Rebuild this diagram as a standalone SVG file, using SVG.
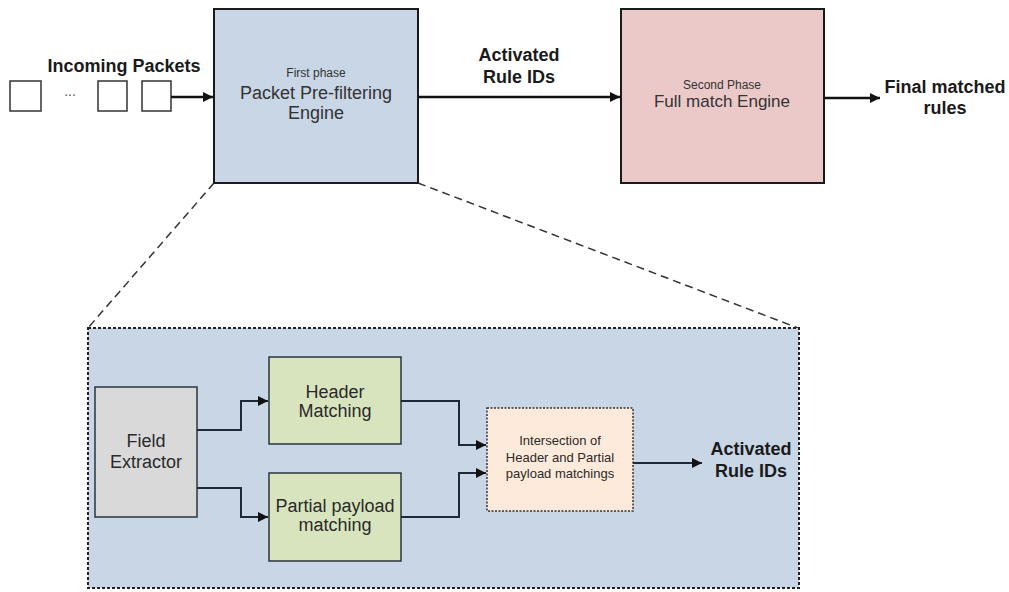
<svg xmlns="http://www.w3.org/2000/svg" width="1009" height="592" viewBox="0 0 1009 592">
<defs>
<style>
text{font-family:"Liberation Sans",Arial,sans-serif;text-anchor:middle}
.lbl{font-weight:bold;font-size:18px;fill:#1a1a1a}
.big{font-size:18px;fill:#333}
.sm{font-size:12px;fill:#333}
.mid{font-size:18px;fill:#2a2a2a}
.tiny{font-size:13px;fill:#2a2a2a}
.box{stroke:#1a1a1a;stroke-width:2}
.conn{fill:none;stroke:#111;stroke-width:2.5}
.conn2{fill:none;stroke:#1f2a38;stroke-width:2}
.zoom{fill:none;stroke:#333;stroke-width:1.5;stroke-dasharray:8 5}
</style>
<marker id="ah" viewBox="0 0 10 10" refX="10" refY="5" markerWidth="5" markerHeight="4" markerUnits="strokeWidth" orient="auto"><path d="M0,0 L10,5 L0,10 z" fill="#111"/></marker>
<marker id="ah2" viewBox="0 0 10 10" refX="10" refY="5" markerWidth="6" markerHeight="5" markerUnits="strokeWidth" orient="auto"><path d="M0,0 L10,5 L0,10 z" fill="#111"/></marker>
</defs>
<rect width="1009" height="592" fill="#fff"/>

<g id="zoom-lines">
<line class="zoom" x1="214" y1="183" x2="88" y2="328"/>
<line class="zoom" x1="418" y1="183" x2="798" y2="328"/>
</g>

<g id="incoming">
<text class="lbl" x="124" y="72">Incoming Packets</text>
<rect x="10" y="81" width="31" height="30" fill="#fff" stroke="#333" stroke-width="1.5"/>
<text x="70" y="96" style="font-size:14px;fill:#555">...</text>
<rect x="98" y="81" width="29" height="30" fill="#fff" stroke="#333" stroke-width="1.5"/>
<rect x="142" y="81" width="29" height="30" fill="#fff" stroke="#333" stroke-width="1.5"/>
</g>

<g id="prefilter">
<rect class="box" x="214" y="9" width="204" height="174" fill="#c8d6e6"/>
<text class="sm" x="316" y="77">First phase</text>
<text class="big" x="316" y="99">Packet Pre-filtering</text>
<text class="big" x="316" y="119">Engine</text>
</g>

<g id="fullmatch">
<rect class="box" x="621" y="9" width="203" height="174" fill="#ecc9c9"/>
<text class="sm" x="722" y="89">Second Phase</text>
<text class="big" x="722" y="107" style="font-size:17px">Full match Engine</text>
</g>

<g id="label-activated-top">
<text class="lbl" x="519" y="61">Activated</text>
<text class="lbl" x="519" y="83">Rule IDs</text>
</g>

<g id="label-final">
<text class="lbl" x="945" y="93">Final matched</text>
<text class="lbl" x="945" y="114">rules</text>
</g>

<g id="container">
<rect x="88" y="328" width="711" height="260" fill="#c8d6e6" stroke="#222" stroke-width="2" stroke-dasharray="3 2"/>
</g>

<g id="field-extractor">
<rect x="95" y="387" width="102" height="130" fill="#d9d9d9" stroke="#2a3440" stroke-width="1.5"/>
<text class="mid" x="146" y="447">Field</text>
<text class="mid" x="146" y="468">Extractor</text>
</g>

<g id="header-matching">
<rect x="269" y="357" width="132" height="87" fill="#d7e4bd" stroke="#2a3440" stroke-width="1.5"/>
<text class="mid" x="335" y="398">Header</text>
<text class="mid" x="335" y="417">Matching</text>
</g>

<g id="partial-matching">
<rect x="269" y="473" width="132" height="88" fill="#d7e4bd" stroke="#2a3440" stroke-width="1.5"/>
<text class="mid" x="335" y="512">Partial payload</text>
<text class="mid" x="335" y="531">matching</text>
</g>

<g id="intersection">
<rect x="487" y="408" width="146" height="103" fill="#fdeada" stroke="#333" stroke-width="1.5" stroke-dasharray="2 1.5"/>
<text class="tiny" x="560" y="445">Intersection of</text>
<text class="tiny" x="560" y="462">Header and Partial</text>
<text class="tiny" x="560" y="478">payload matchings</text>
</g>

<g id="label-activated-bottom">
<text class="lbl" x="751" y="455">Activated</text>
<text class="lbl" x="751" y="477">Rule IDs</text>
</g>

<g id="connectors">
<line class="conn" x1="171" y1="97" x2="213" y2="97" marker-end="url(#ah)"/>
<line class="conn" x1="418" y1="97" x2="620" y2="97" marker-end="url(#ah)"/>
<line class="conn" x1="824" y1="98" x2="880" y2="98" marker-end="url(#ah)"/>
<polyline class="conn2" points="197,430 241,430 241,401 268,401" marker-end="url(#ah2)"/>
<polyline class="conn2" points="197,488 241,488 241,517 268,517" marker-end="url(#ah2)"/>
<polyline class="conn2" points="401,401 459,401 459,445 486,445" marker-end="url(#ah2)"/>
<polyline class="conn2" points="401,517 459,517 459,473 486,473" marker-end="url(#ah2)"/>
<line class="conn2" x1="633" y1="463" x2="702" y2="463" marker-end="url(#ah2)"/>
</g>
</svg>
